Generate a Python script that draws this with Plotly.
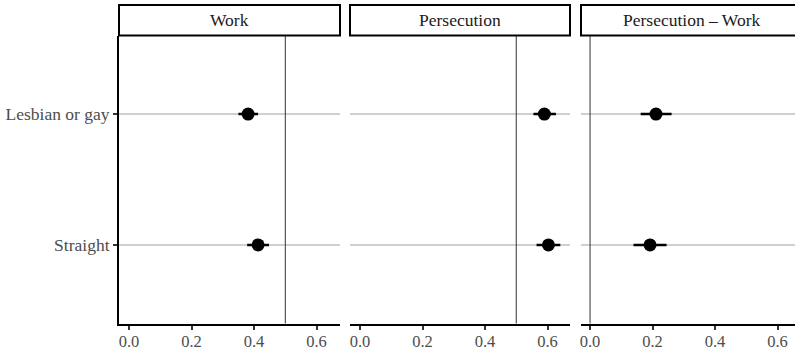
import plotly.graph_objects as go

panels = ["Work", "Persecution", "Persecution \u2013 Work"]
groups = ["Straight", "Lesbian or gay"]
estimates = {
    "Work": [0.413, 0.381],
    "Persecution": [0.603, 0.590],
    "Persecution \u2013 Work": [0.192, 0.211],
}
ci_low = {
    "Work": [0.378, 0.350],
    "Persecution": [0.565, 0.555],
    "Persecution \u2013 Work": [0.139, 0.162],
}
ci_high = {
    "Work": [0.448, 0.413],
    "Persecution": [0.641, 0.627],
    "Persecution \u2013 Work": [0.245, 0.261],
}
ref_lines = [0.5, 0.5, 0.0]
x_ticks = [0.0, 0.2, 0.4, 0.6]

W, H = 795, 352
FONT = "Liberation Serif"
FS = 17.5
px_left = [119, 350, 581]
px_right = [340, 570, 795]
ranges = [[-0.032, 0.675], [-0.032, 0.672], [-0.029, 0.656]]
plot_top, plot_bot = 35.5, 323.5
strip_top = 5
y_dom = [(H - plot_bot) / H, (H - plot_top) / H]

fig = go.Figure()
for i, p in enumerate(panels):
    xa = "x" if i == 0 else f"x{i+1}"
    ya = "y" if i == 0 else f"y{i+1}"
    est = estimates[p]
    lo = [e - l for e, l in zip(est, ci_low[p])]
    hi = [h - e for e, h in zip(est, ci_high[p])]
    fig.add_trace(go.Scatter(
        x=est, y=[1, 2], mode="markers",
        marker=dict(color="black", size=13),
        error_x=dict(type="data", array=hi, arrayminus=lo, thickness=2.5, width=0, color="black"),
        xaxis=xa, yaxis=ya, showlegend=False, cliponaxis=False,
    ))
    dom = [px_left[i] / W, px_right[i] / W]
    xkey = "xaxis" if i == 0 else f"xaxis{i+1}"
    ykey = "yaxis" if i == 0 else f"yaxis{i+1}"
    fig.layout[xkey] = dict(
        domain=dom, range=ranges[i], anchor=ya, showgrid=False, zeroline=False,
        tickvals=x_ticks, ticktext=[f"{t:.1f}" for t in x_ticks],
        showline=True, linecolor="black", linewidth=2,
        ticks="outside", ticklen=4, tickcolor="#333333", tickwidth=1.5,
        ticklabelstandoff=-2,
        tickfont=dict(family=FONT, size=16.5, color="#4d4d4d"),
    )
    fig.layout[ykey] = dict(
        domain=y_dom, range=[0.4, 2.6], anchor=xa, zeroline=False,
        tickvals=[1, 2], ticktext=groups if i == 0 else ["", ""],
        showticklabels=(i == 0),
        showgrid=True, gridcolor="#d0d0d0", gridwidth=2,
        showline=(i == 0), linecolor="black", linewidth=2,
        ticks="outside" if i == 0 else "", ticklen=4, tickcolor="#333333", tickwidth=1.5,
        tickfont=dict(family=FONT, size=FS, color="#4d4d4d"),
    )
    fig.add_shape(type="line", xref=xa, yref="paper", x0=ref_lines[i], x1=ref_lines[i],
                  y0=y_dom[0], y1=y_dom[1], line=dict(color="#333333", width=1))
    right_px = px_right[i] if i < 2 else W + 10
    fig.add_shape(type="rect", xref="paper", yref="paper",
                  x0=dom[0], x1=right_px / W,
                  y0=y_dom[1], y1=(H - strip_top) / H,
                  line=dict(color="black", width=2), fillcolor="white")
    center_px = (px_left[i] + (px_right[i] if i < 2 else px_left[i] + 221)) / 2
    fig.add_annotation(xref="paper", yref="paper", x=center_px / W, xanchor="center",
                       y=(y_dom[1] + (H - strip_top) / H) / 2, text=p, showarrow=False,
                       font=dict(family=FONT, size=FS, color="#1a1a1a"), yanchor="middle")

fig.update_layout(
    width=W, height=H, margin=dict(l=0, r=0, t=0, b=0),
    plot_bgcolor="white", paper_bgcolor="white",
)
fig.write_html("out.html", config={"displayModeBar": False},
               post_script="document.body.style.margin='0';document.body.style.padding='0';")
